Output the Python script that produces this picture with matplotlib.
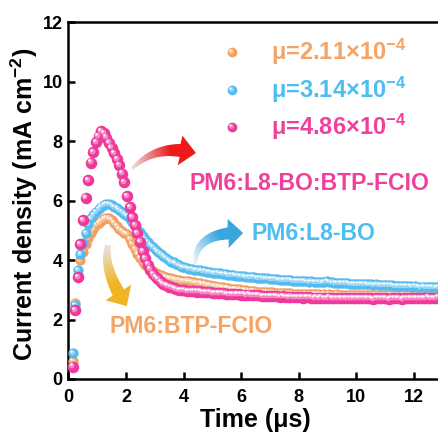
"""
Transient photocurrent decay of the three blend films
"""
import matplotlib
matplotlib.use('Agg')
import matplotlib.pyplot as plt
import matplotlib.transforms as mtransforms
from matplotlib.patches import Polygon
from matplotlib.colors import to_rgb
import numpy as np

plt.rcParams['font.family'] = ['Liberation Sans', 'DejaVu Sans']
plt.rcParams['font.weight'] = 'bold'
plt.rcParams['axes.labelweight'] = 'bold'
plt.rcParams['mathtext.fontset'] = 'custom'
plt.rcParams['mathtext.rm'] = 'Liberation Sans:bold'
plt.rcParams['mathtext.it'] = 'Liberation Sans:bold'
plt.rcParams['mathtext.bf'] = 'Liberation Sans:bold'

# sampling of the TPC traces (µs)
t_start = 0.15
t_step = 0.09

# PM6:BTP-FCIO
j_btp = [0.60, 2.55, 3.50, 4.00, 4.28, 4.55, 4.75, 4.92, 5.05, 5.18,
         5.26, 5.32, 5.38, 5.41, 5.40, 5.35, 5.26, 5.15, 5.06, 4.98,
         4.92, 4.88, 4.72, 4.55, 4.38, 4.22, 4.08, 3.95, 3.85, 3.76,
         3.69, 3.62, 3.57, 3.53, 3.49, 3.45, 3.42, 3.40, 3.38, 3.36,
         3.34, 3.32, 3.31, 3.30,
         3.29, 3.28, 3.26, 3.25, 3.23, 3.22, 3.20, 3.19, 3.17, 3.16,
         3.14, 3.13, 3.11, 3.10, 3.08, 3.07, 3.05, 3.04, 3.03, 3.02,
         3.01, 3.00, 2.99, 2.98, 2.97, 2.96, 2.95, 2.94, 2.94, 2.93,
         2.92, 2.92, 2.91, 2.91, 2.90, 2.90, 2.89, 2.89, 2.88, 2.88,
         2.88, 2.87, 2.87, 2.87, 2.86, 2.86, 2.86, 2.86, 2.85, 2.85,
         2.85, 2.85, 2.84, 2.85, 2.84, 2.85, 2.84, 2.84, 2.85, 2.84,
         2.84, 2.83, 2.84, 2.84, 2.83, 2.84, 2.83, 2.84, 2.83, 2.83,
         2.84, 2.83, 2.83, 2.82, 2.83, 2.83, 2.82, 2.83, 2.82, 2.83,
         2.82, 2.83, 2.82, 2.82, 2.83, 2.82, 2.82, 2.81, 2.82, 2.82,
         2.81, 2.82, 2.82, 2.81, 2.82, 2.81, 2.82, 2.81, 2.81]

# PM6:L8-BO
j_l8 = [0.88, 2.49, 3.66, 4.20, 4.57, 4.92, 5.22, 5.40, 5.51, 5.62,
        5.72, 5.80, 5.85, 5.88, 5.88, 5.84, 5.79, 5.75, 5.68, 5.61,
        5.54, 5.48, 5.38, 5.27, 5.15, 5.04, 4.93, 4.82, 4.71, 4.62,
        4.52, 4.43, 4.35, 4.26, 4.20, 4.13, 4.06, 4.00, 3.95, 3.92,
        3.87, 3.82, 3.78, 3.75,
        3.73, 3.71, 3.70, 3.68, 3.66, 3.65, 3.63, 3.62, 3.61, 3.59,
        3.58, 3.57, 3.56, 3.55, 3.54, 3.52, 3.51, 3.50, 3.49, 3.48,
        3.47, 3.46, 3.45, 3.44, 3.43, 3.43, 3.42, 3.41, 3.40, 3.39,
        3.38, 3.38, 3.37, 3.36, 3.36, 3.35, 3.34, 3.34, 3.33, 3.32,
        3.32, 3.31, 3.30, 3.30, 3.29, 3.29, 3.28, 3.27, 3.28, 3.27,
        3.26, 3.26, 3.25, 3.26, 3.30, 3.27, 3.25, 3.24, 3.24, 3.23,
        3.23, 3.22, 3.22, 3.21, 3.21, 3.20, 3.21, 3.20, 3.19, 3.19,
        3.18, 3.18, 3.17, 3.18, 3.17, 3.16, 3.16, 3.15, 3.16, 3.15,
        3.14, 3.14, 3.13, 3.14, 3.13, 3.12, 3.12, 3.11, 3.12, 3.11,
        3.10, 3.11, 3.10, 3.09, 3.10, 3.09, 3.08, 3.09, 3.08]

# PM6:L8-BO:BTP-FCIO
j_ternary = [0.42, 2.32, 3.44, 4.54, 5.35, 6.10, 6.69, 7.28, 7.64, 7.98,
             8.17, 8.35, 8.28, 8.12, 7.95, 7.78, 7.60, 7.40, 7.19, 6.91,
             6.63, 6.15, 5.79, 5.45, 5.18, 4.92, 4.62, 4.30, 4.08, 3.85,
             3.68, 3.52, 3.43, 3.35, 3.26, 3.20, 3.15, 3.11, 3.08, 3.05,
             3.02, 3.00, 2.99, 2.98,
             2.97, 2.96, 2.96, 2.95, 2.94, 2.95, 2.93, 2.92, 2.92, 2.91,
             2.90, 2.90, 2.89, 2.88, 2.89, 2.87, 2.86, 2.86, 2.85, 2.86,
             2.85, 2.84, 2.84, 2.83, 2.84, 2.82, 2.82, 2.81, 2.82, 2.80,
             2.80, 2.79, 2.80, 2.78, 2.79, 2.78, 2.77, 2.78, 2.77, 2.76,
             2.77, 2.76, 2.75, 2.76, 2.75, 2.74, 2.76, 2.75, 2.74, 2.73,
             2.74, 2.73, 2.74, 2.72, 2.73, 2.74, 2.72, 2.73, 2.72, 2.71,
             2.72, 2.73, 2.71, 2.72, 2.73, 2.71, 2.72, 2.71, 2.73, 2.72,
             2.71, 2.72, 2.70, 2.72, 2.71, 2.73, 2.72, 2.71, 2.70, 2.72,
             2.71, 2.72, 2.71, 2.70, 2.72, 2.71, 2.73, 2.72, 2.71, 2.72,
             2.73, 2.71, 2.72, 2.74, 2.73, 2.72, 2.73, 2.74, 2.73]

mobility = ['2.11', '3.14', '4.86']
blend_names = ['PM6:BTP-FCIO', 'PM6:L8-BO', 'PM6:L8-BO:BTP-FCIO']

bead_colors = ['#F2A062', '#55BBEF', '#F0379A']
text_colors = ['#F3A466', '#4CBEF2', '#F0409C']


def lighten(color, amount):
    c = np.array(to_rgb(color))
    return tuple(c + (1 - c) * amount)


def beads(ax, x, y, color, ms, zorder, transform=None):
    """scatter drawn as small shaded spheres"""
    fig = ax.figure
    if transform is None:
        transform = ax.transData
    ax.plot(x, y, ls='none', marker='o', ms=ms, mfc=color, mec='none',
            zorder=zorder, transform=transform, clip_on=False)
    hl1 = mtransforms.offset_copy(transform, fig=fig, x=-ms * 0.1, y=ms * 0.1, units='points')
    ax.plot(x, y, ls='none', marker='o', ms=ms * 0.5, mfc=lighten(color, 0.4), mec='none',
            zorder=zorder + 0.1, transform=hl1, clip_on=False)
    hl2 = mtransforms.offset_copy(transform, fig=fig, x=-ms * 0.18, y=ms * 0.18, units='points')
    ax.plot(x, y, ls='none', marker='o', ms=ms * 0.22, mfc='white', mec='none',
            zorder=zorder + 0.2, transform=hl2, clip_on=False)


def grad_arrow(ax, start, ctrl, tip, w_tail, w_shaft, head_w, head_len, c0, c1, ramp=1.6):
    """curved block arrow (quadratic bezier) filled with a colour gradient"""
    S, C, T = ax.transData.transform([start, ctrl, tip])
    s = np.linspace(0, 1, 300)[:, None]
    B = (1 - s) ** 2 * S + 2 * (1 - s) * s * C + s ** 2 * T
    L = np.concatenate([[0], np.cumsum(np.hypot(*np.diff(B, axis=0).T))])
    P = B[L <= L[-1] - head_len]
    d = np.gradient(P, axis=0)
    d /= np.hypot(d[:, 0], d[:, 1])[:, None]
    n = np.column_stack([-d[:, 1], d[:, 0]])
    w = np.linspace(w_tail, w_shaft, len(P))[:, None] / 2
    base = P[-1]
    u = (T - base) / np.hypot(*(T - base))
    nb = np.array([-u[1], u[0]])
    head = np.array([base + nb * head_w / 2, T, base - nb * head_w / 2])
    outline = np.vstack([P + n * w, head, (P - n * w)[::-1]])
    poly = ax.transData.inverted().transform(outline)
    patch = Polygon(poly, closed=True, fc='none', ec='none', transform=ax.transData)
    ax.add_patch(patch)

    x0, y0 = poly.min(axis=0)
    x1, y1 = poly.max(axis=0)
    gx, gy = np.meshgrid(np.linspace(x0, x1, 120), np.linspace(y0, y1, 120))
    G = ax.transData.transform(np.column_stack([gx.ravel(), gy.ravel()]))
    v = T - S
    f = ((G - S) @ v) / (v @ v)
    f = np.clip(f * ramp, 0, 1).reshape(gx.shape)[..., None]
    a, b = np.array(to_rgb(c0)), np.array(to_rgb(c1))
    img = a + (b - a) * f
    im = ax.imshow(img, extent=(x0, x1, y0, y1), origin='lower', aspect='auto',
                   interpolation='bilinear', zorder=6)
    im.set_clip_path(patch)


fig = plt.figure(figsize=(4.39, 4.32), dpi=100)
ax = fig.add_axes([0.1556, 0.1227, 0.853, 0.826])

xlim = (0, 13)
ylim = (0, 12)
ax.set_xlim(*xlim)
ax.set_ylim(*ylim)

series = [j_btp, j_l8, j_ternary]
sizes = [7.4, 7.4, 8.3]
for i, (j, col, ms) in enumerate(zip(series, bead_colors, sizes)):
    t = t_start + t_step * np.arange(len(j))
    beads(ax, t, j, col, ms, zorder=3 + i)

# legend with mobility values
leg_y = [0.9165, 0.810, 0.706]
for mu, col, tc, y in zip(mobility, bead_colors, text_colors, leg_y):
    beads(ax, [0.437], [y], col, 7, zorder=7, transform=ax.transAxes)
    ax.text(0.541, y, f'μ={mu}×10$^{{-4}}$', transform=ax.transAxes, color=tc,
            fontsize=17, fontweight='bold', va='center', ha='left')

# labels next to the curves
ax.text(8.37, 6.59, blend_names[2], color=text_colors[2], fontsize=16.6,
        fontweight='bold', ha='center', va='center')
ax.text(8.5, 4.9, blend_names[1], color=text_colors[1], fontsize=16.6,
        fontweight='bold', ha='center', va='center')
ax.text(4.26, 1.76, blend_names[0], color=text_colors[0], fontsize=16.6,
        fontweight='bold', ha='center', va='center')

grad_arrow(ax, (2.21, 7.06), (3.05, 7.93), (4.43, 7.60), 3, 13, 30, 16,
           '#E6E6E6', '#EE1A1A')
grad_arrow(ax, (4.40, 3.87), (4.40, 4.96), (6.07, 4.91), 4, 12, 29, 15,
           '#EEF6FB', '#3AA6DE')
grad_arrow(ax, (1.38, 4.50), (1.19, 3.65), (2.03, 2.45), 6, 13, 30, 16,
           '#E4E4E4', '#F2B422')

ax.set_xlim(*xlim)
ax.set_ylim(*ylim)
ax.set_xticks(np.arange(0, 13, 2))
ax.set_yticks(np.arange(0, 13, 2))
ax.tick_params(direction='in', length=5, width=1.8, labelsize=13,
               top=False, right=False)
ax.tick_params(axis='x', pad=7)
ax.tick_params(axis='y', pad=4)
for sp in ax.spines.values():
    sp.set_linewidth(1.8)

ax.set_xlabel('Time (μs)', fontsize=18, labelpad=2)
ax.set_ylabel('Current density (mA cm$^{-2}$)', fontsize=18)
ax.yaxis.set_label_coords(-0.075, 0.49)

fig.savefig('out.png', dpi=100)
